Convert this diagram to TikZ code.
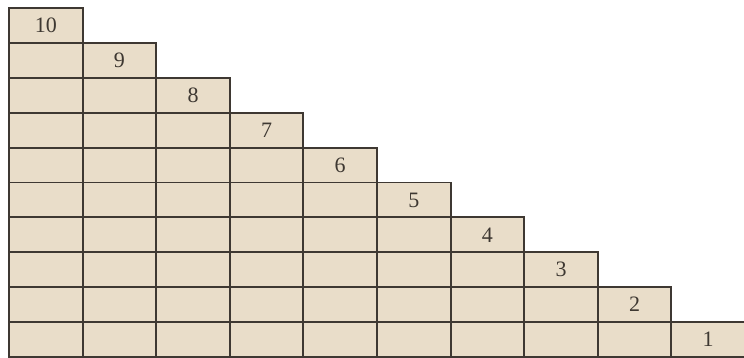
\documentclass[tikz,border=0pt]{standalone}
\usepackage{fontspec}
\setmainfont{Liberation Serif}
\usepackage{tikz}
\usetikzlibrary{positioning}
\definecolor{cellfill}{RGB}{233,221,201}
\definecolor{celldraw}{RGB}{62,56,50}

\begin{document}
\begin{tikzpicture}[x=1pt, y=1pt,
  cell/.style={rectangle, draw=celldraw, fill=cellfill, line width=1.9pt,
               minimum width=73.6pt, minimum height=34.9pt, inner sep=0pt,
               outer sep=0pt, anchor=north west,
               font=\fontsize{22}{22}\selectfont, text=celldraw}
]
\useasboundingbox (0,0) rectangle (744,-358);

% === staircase: column i starts at row i =====================================
\foreach \i in {0,...,9}{
  \pgfmathtruncatemacro{\lbl}{10-\i}
  \node[cell] (c-\i-\i) at ({9+73.6*\i}, {-8-34.9*\i}) {\lbl};
  \ifnum\i<9
    \foreach \r in {\i,...,8}{
      \pgfmathtruncatemacro{\nr}{\r+1}
      \node[cell, below=0pt of c-\i-\r.south west, anchor=north west] (c-\i-\nr) {};
    }
  \fi
}

\end{tikzpicture}
\end{document}
